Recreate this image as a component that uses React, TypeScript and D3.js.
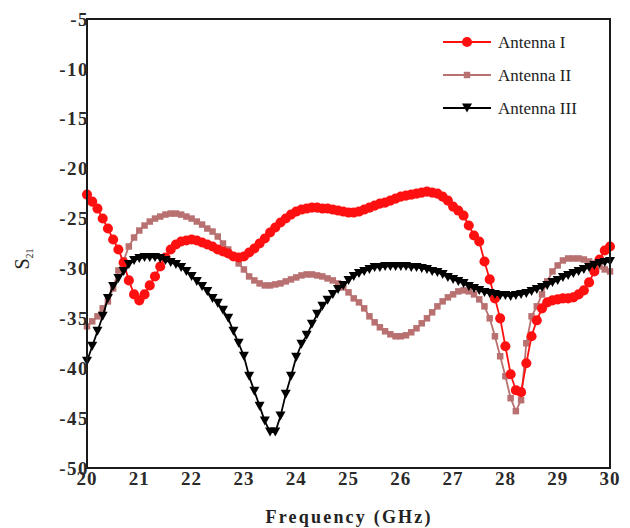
import React from "react";
import * as d3 from "d3";

const freqs: number[] = d3.range(0, 101).map((i) => 20 + i * 0.1);

const antenna1: number[] = [
  -22.6, -23.3, -24.0, -25.0, -26.0, -27.1, -28.1, -29.4, -31.2, -32.6,
  -33.2, -32.6, -31.7, -30.8, -29.8, -28.9, -28.1, -27.6, -27.3, -27.2,
  -27.1, -27.2, -27.4, -27.6, -27.8, -28.1, -28.3, -28.5, -28.8, -28.9,
  -28.8, -28.4, -28.0, -27.5, -27.0, -26.4, -25.9, -25.4, -25.0, -24.6,
  -24.3, -24.1, -24.0, -23.9, -23.9, -24.0, -24.0, -24.1, -24.2, -24.3,
  -24.4, -24.4, -24.3, -24.1, -23.9, -23.7, -23.5, -23.4, -23.2, -23.0,
  -22.8, -22.7, -22.6, -22.5, -22.4, -22.3, -22.4, -22.5, -22.8, -23.2,
  -23.8, -24.2, -24.7, -25.7, -26.7, -27.3, -29.3, -31.1, -33.0, -35.0,
  -37.8, -40.6, -42.2, -42.4, -39.5, -36.8, -35.2, -34.0, -33.4, -33.2,
  -33.1, -33.0, -33.0, -32.9, -32.6, -32.2, -31.4, -30.3, -29.1, -28.2,
  -27.8,
];

const antenna2: number[] = [
  -35.8, -35.3, -34.8, -34.0, -33.3, -32.0, -30.2, -29.2, -27.8, -26.9,
  -26.2, -25.7, -25.3, -25.0, -24.8, -24.6, -24.5, -24.5, -24.6, -24.8,
  -25.0, -25.3, -25.6, -26.0, -26.3, -26.8, -27.5, -28.1, -28.8, -29.5,
  -30.1, -30.8, -31.2, -31.5, -31.7, -31.7, -31.6, -31.5, -31.3, -31.1,
  -30.9, -30.7, -30.6, -30.6, -30.7, -30.8, -31.0, -31.2, -31.5, -31.9,
  -32.4, -33.0, -33.4, -34.0, -34.8, -35.4, -35.9, -36.3, -36.6, -36.8,
  -36.8, -36.7, -36.4, -36.0, -35.5, -35.0, -34.4, -33.8, -33.3, -32.9,
  -32.6, -32.3, -32.2, -32.3, -32.6, -33.1, -33.8, -35.0, -36.8, -38.8,
  -40.8, -43.0, -44.3, -43.2, -37.5, -34.8, -33.8, -32.6, -31.3, -30.3,
  -29.7, -29.2, -29.0, -29.0, -29.0, -29.1, -29.3, -29.5, -29.8, -30.1,
  -30.3,
];

const antenna3: number[] = [
  -39.3, -37.8, -36.3, -34.8, -33.0, -31.8, -31.0, -30.3, -29.6, -29.2,
  -29.0, -28.9, -28.9, -28.9, -29.0, -29.2, -29.4, -29.6, -29.9, -30.3,
  -30.8, -31.3, -31.8, -32.3, -33.0, -33.5, -34.2, -35.0, -36.3, -37.5,
  -38.8, -40.8, -42.3, -43.8, -45.3, -46.4, -46.4, -44.8, -42.6, -40.8,
  -38.9, -37.6, -36.7, -35.6, -34.6, -33.8, -33.2, -32.6, -32.1, -31.7,
  -31.2, -30.8, -30.5, -30.3, -30.1, -29.9, -29.9, -29.8, -29.8, -29.8,
  -29.8, -29.8, -29.9, -29.9, -30.0, -30.1, -30.3, -30.4, -30.6, -30.9,
  -31.1, -31.3, -31.5, -31.8, -32.0, -32.2, -32.4, -32.5, -32.6, -32.7,
  -32.7, -32.8, -32.7, -32.6, -32.5, -32.3, -32.1, -31.9, -31.7, -31.4,
  -31.2, -30.9, -30.7, -30.5, -30.3, -30.1, -29.9, -29.7, -29.5, -29.4,
  -29.3,
];

const xTicks: number[] = [20, 21, 22, 23, 24, 25, 26, 27, 28, 29, 30];
const yTicks: number[] = [-5, -10, -15, -20, -25, -30, -35, -40, -45, -50];
const seriesNames: string[] = ["Antenna I", "Antenna II", "Antenna III"];

const W = 630;
const H = 528;
const left = 87;
const right = 610;
const top = 19;
const bottom = 468;

const FONT = '"Liberation Serif", "Times New Roman", Times, serif';

export default function App() {
  const x = d3.scaleLinear().domain([20, 30]).range([left, right]);
  const y = d3.scaleLinear().domain([-5, -50]).range([top, bottom]);

  const line = d3
    .line<number>()
    .x((_, i) => x(freqs[i]))
    .y((d) => y(d));

  const sym = (type: d3.SymbolType, size: number) => d3.symbol().type(type).size(size)()!;
  const circlePath = sym(d3.symbolCircle, 80);
  const squarePath = sym(d3.symbolSquare, 42);
  const triPath = (cx: number, cy: number, w: number, h: number) =>
    `M${cx - w / 2},${cy - h / 2}L${cx + w / 2},${cy - h / 2}L${cx},${cy + h / 2}Z`;

  const red = "#ff1010";
  const brown = "#b87070";

  const series = [
    { name: seriesNames[1], data: antenna2, color: brown, kind: "square" },
    { name: seriesNames[0], data: antenna1, color: red, kind: "circle" },
    { name: seriesNames[2], data: antenna3, color: "#000", kind: "tri" },
  ];

  const marker = (kind: string, cx: number, cy: number, color: string, key: any) => {
    if (kind === "circle")
      return <path key={key} d={circlePath} transform={`translate(${cx},${cy})`} fill={color} />;
    if (kind === "square")
      return <path key={key} d={squarePath} transform={`translate(${cx},${cy})`} fill={color} />;
    return <path key={key} d={triPath(cx, cy, 10, 9)} fill={color} />;
  };

  const legendRows = [
    { name: seriesNames[0], color: red, kind: "circle" },
    { name: seriesNames[1], color: brown, kind: "square" },
    { name: seriesNames[2], color: "#000", kind: "tri" },
  ];

  const textStyle = { fontFamily: FONT };

  return (
    <svg
      width={W}
      height={H}
      style={{ position: "absolute", left: 0, top: 0, background: "#fff", fontFamily: FONT }}
    >
      <rect x={0} y={0} width={W} height={H} fill="#fff" />
      {series.map((s) => (
        <g key={s.name}>
          <path d={line(s.data)!} fill="none" stroke={s.color} strokeWidth={1.8} />
          {s.data.map((v, i) => marker(s.kind, x(freqs[i]), y(v), s.color, i))}
        </g>
      ))}
      <rect
        x={left}
        y={top}
        width={right - left}
        height={bottom - top}
        fill="none"
        stroke="#1a1a1a"
        strokeWidth={2}
      />
      {yTicks.map((t) => (
        <text
          key={t}
          x={left + 2}
          y={y(t)}
          dy="0.35em"
          textAnchor="end"
          fontSize={19}
          fontWeight="bold"
          letterSpacing={1.5}
          fill="#2a2a2a"
          style={textStyle}
        >
          {t}
        </text>
      ))}
      {xTicks.map((t) => (
        <text
          key={t}
          x={x(t)}
          y={485}
          textAnchor="middle"
          fontSize={19}
          fontWeight="bold"
          letterSpacing={1}
          fill="#2a2a2a"
          style={textStyle}
        >
          {t}
        </text>
      ))}
      <text
        x={348}
        y={523}
        textAnchor="middle"
        fontSize={18}
        fontWeight="bold"
        fill="#222"
        textLength={165}
        lengthAdjust="spacing"
        style={textStyle}
      >
        Frequency (GHz)
      </text>
      <text
        transform="translate(29,259) rotate(-90)"
        textAnchor="middle"
        fontSize={20}
        fill="#222"
        style={textStyle}
      >
        S<tspan fontSize={10} dy={4}>21</tspan>
      </text>
      {legendRows.map((r, i) => {
        const cy = 42 + i * 33;
        return (
          <g key={r.name}>
            <line x1={443} x2={491} y1={cy} y2={cy} stroke={r.color} strokeWidth={2} />
            {marker(r.kind, 467, cy, r.color, "m")}
            <text x={498} y={cy} dy="0.35em" fontSize={17} fill="#222" style={textStyle}>
              {r.name}
            </text>
          </g>
        );
      })}
    </svg>
  );
}
